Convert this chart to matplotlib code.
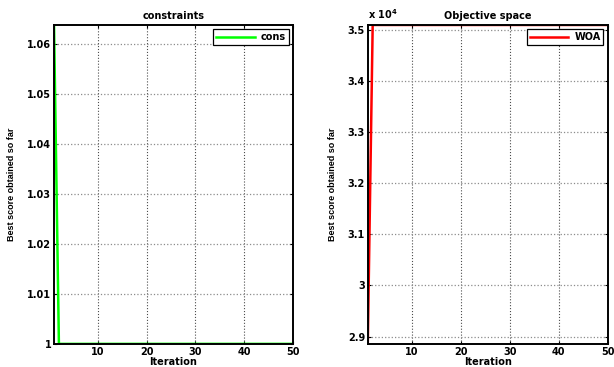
import numpy as np
import matplotlib.pyplot as plt
from matplotlib.ticker import FuncFormatter

plt.rcParams['font.family'] = ['DejaVu Sans']
plt.rcParams['font.weight'] = 'bold'

iterations = np.arange(1, 51)
cons = [1.0639] + [1.0] * 49
woa = [28857.0] + [35098.0] * 49

cons_ticks = [1.0, 1.01, 1.02, 1.03, 1.04, 1.05, 1.06]
woa_ticks = [2.9, 3.0, 3.1, 3.2, 3.3, 3.4, 3.5]
x_ticks = [10, 20, 30, 40, 50]


def style_axes(ax, title):
    ax.set_title(title, fontsize=7, fontweight='bold', pad=4)
    ax.set_xlabel('Iteration', fontsize=7, fontweight='bold', labelpad=0)
    ax.set_ylabel('Best score obtained so far', fontsize=6.5, fontweight='bold',
                  family=['Liberation Sans'], labelpad=8)
    ax.set_xlim(1, 50)
    ax.set_xticks(x_ticks)
    ax.tick_params(direction='in', top=True, right=True, labelsize=7, length=2.5, width=0.8, pad=2)
    ax.yaxis.set_major_formatter(FuncFormatter(lambda v, p: '%g' % round(v, 4)))
    # vertical grid dark dotted, horizontal grid lighter
    ax.xaxis.grid(True, linestyle=':', color='0.3', linewidth=0.8)
    ax.yaxis.grid(True, linestyle=':', color='0.55', linewidth=0.9)
    for s in ax.spines.values():
        s.set_linewidth(1.4)
        s.set_color('black')
    leg = ax.legend(loc='upper right', fontsize=7, fancybox=False, framealpha=1,
                    edgecolor='black', handlelength=4.0, handletextpad=0.6,
                    borderpad=0.3, borderaxespad=0.45)
    leg.get_frame().set_linewidth(0.9)
    for t in leg.get_texts():
        t.set_fontweight('bold')


fig = plt.figure(figsize=(6.14, 3.67), dpi=100)

ax1 = fig.add_axes([0.088, 0.063, 0.389, 0.869])
ax1.plot(iterations, cons, color='#00ff00', linewidth=1.8, label='cons')
ax1.set_ylim(min(cons), max(cons))
ax1.set_yticks(cons_ticks)
style_axes(ax1, 'constraints')

# objective values shown in units of 1e4
woa_scaled = np.array(woa) / 1e4
ax2 = fig.add_axes([0.599, 0.063, 0.391, 0.869])
ax2.plot(iterations, woa_scaled, color='#ff0000', linewidth=1.8, label='WOA')
ax2.set_ylim(woa_scaled.min(), woa_scaled.max())
ax2.set_yticks(woa_ticks)
style_axes(ax2, 'Objective space')
ax2.text(0.0, 1.012, 'x 10$^{4}$', transform=ax2.transAxes, fontsize=7,
         ha='left', va='bottom')

fig.savefig('out.png', dpi=100)
